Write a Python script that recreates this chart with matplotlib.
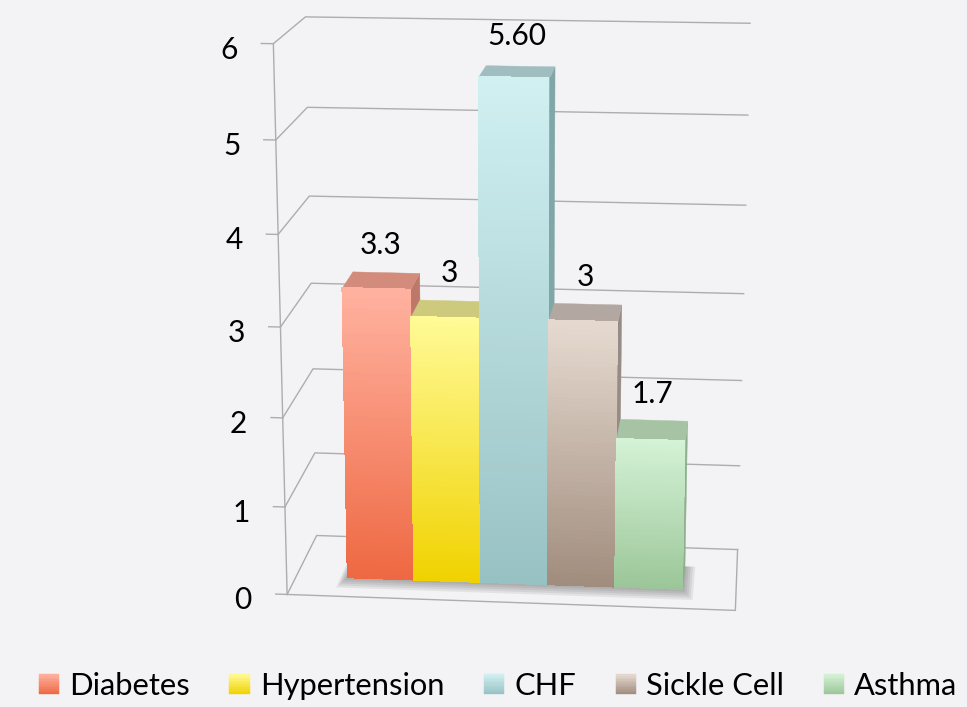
import numpy as np
import matplotlib
matplotlib.use("Agg")
import matplotlib.pyplot as plt
import matplotlib.transforms as mtransforms
from matplotlib.colors import to_rgb
from matplotlib.patches import Rectangle
from matplotlib.legend_handler import HandlerBase
from mpl_toolkits.mplot3d import proj3d
from mpl_toolkits.mplot3d.art3d import Poly3DCollection

# data
categories = ["Diabetes", "Hypertension", "CHF", "Sickle Cell", "Asthma"]
values = [3.3, 3.0, 5.6, 3.0, 1.7]
value_labels = ["3.3", "3", "5.60", "3", "1.7"]
z_ticks = [0, 1, 2, 3, 4, 5, 6]

# colours per series: front gradient (top, bottom), top face, right face
front_top = ["#FFB2A0", "#FFFA96", "#D0F0F2", "#E6DAD0", "#D4F2D6"]
front_bottom = ["#EE6842", "#F0D200", "#98C1C3", "#A08C7D", "#9BC698"]
top_face = ["#D38C7C", "#CDCA7D", "#A0BEC0", "#B2A8A1", "#A6C4A4"]
side_face = ["#BE7869", "#B9B464", "#80A6A8", "#968C85", "#8CAF8C"]

BG = "#F3F3F5"
GRID = "#ADADAD"

plt.rcParams["font.family"] = ["Lato", "DejaVu Sans"]


def blend(c_bot, c_top, t):
    a = np.array(to_rgb(c_bot))
    b = np.array(to_rgb(c_top))
    return tuple(a + (b - a) * t)


fig = plt.figure(figsize=(9.67, 7.07), dpi=100, facecolor=BG)
ax = fig.add_axes([0.1562, 0.0430, 0.7384, 1.0099], projection="3d",
                  computed_zorder=False)
ax.patch.set_visible(False)
ax.set_axis_off()
ax.set_proj_type("persp", focal_length=0.66)
ax.view_init(elev=15, azim=-84.5)
ax.set_box_aspect((1.039, 0.40, 1.29))

W, D = 6.56, 1.0         # floor width / depth
bx0 = 0.77               # first bar left edge
by0, by1 = 0.3, 0.68     # bar depth range

# walls: left wall + back wall gridlines, tick marks
for z in z_ticks:
    ax.plot([0, 0, W], [0, D, D], [z, z, z], color=GRID, lw=1, zorder=1)
    ax.plot([-0.17, 0], [0, 0], [z, z], color=GRID, lw=1, zorder=1)
ax.plot([0, W, W], [0, 0, D], [0, 0, 0], color=GRID, lw=1, zorder=1)
ax.plot([0, 0], [0, 0], [0, z_ticks[-1]], color=GRID, lw=1, zorder=1)

# soft shadow under the bars, darkest next to the bar edges
n_bars = len(values)
for k in range(5):
    e = 0.025 * (k + 1)
    sx0 = bx0 - 0.8 * e
    sx1 = bx0 + n_bars + 1.3 * e
    sy0 = by0 - 1.3 * e
    quad = [[(sx0, sy0, 0), (sx1, sy0, 0), (sx1, by1, 0), (sx0, by1, 0)]]
    ax.add_collection3d(Poly3DCollection(quad, facecolors=(0.25, 0.25, 0.25, 0.09),
                                         edgecolors="none", zorder=2))

# bars, drawn left to right so the later ones cover the earlier side faces
n_strips = 60
for i, v in enumerate(values):
    x0 = bx0 + i
    x1 = x0 + 1
    zo = 3 + i
    side = [[(x1, by0, 0), (x1, by1, 0), (x1, by1, v), (x1, by0, v)]]
    ax.add_collection3d(Poly3DCollection(side, facecolors=side_face[i],
                                         edgecolors=side_face[i], linewidths=0.3,
                                         zorder=zo))
    top = [[(x0, by0, v), (x1, by0, v), (x1, by1, v), (x0, by1, v)]]
    ax.add_collection3d(Poly3DCollection(top, facecolors=top_face[i],
                                         edgecolors=top_face[i], linewidths=0.3,
                                         zorder=zo))
    base = [[(x0, by0, 0), (x1, by0, 0), (x1, by0, v), (x0, by0, v)]]
    mid = blend(front_bottom[i], front_top[i], 0.5)
    ax.add_collection3d(Poly3DCollection(base, facecolors=mid, edgecolors="none",
                                         zorder=zo))
    zs = np.linspace(0, v, n_strips + 1)
    strips = []
    cols = []
    for k in range(n_strips):
        strips.append([(x0, by0, zs[k]), (x1, by0, zs[k]),
                       (x1, by0, zs[k + 1]), (x0, by0, zs[k + 1])])
        cols.append(blend(front_bottom[i], front_top[i], (k + 0.5) / n_strips))
    ax.add_collection3d(Poly3DCollection(strips, facecolors=cols, edgecolors="none",
                                         antialiaseds=False, zorder=zo))

ax.set_xlim(0, W)
ax.set_ylim(0, D)
ax.set_zlim(0, z_ticks[-1])

# text placed at projected 3D anchor points
M = ax.get_proj()


def to2d(x, y, z):
    px, py, _ = proj3d.proj_transform(x, y, z, M)
    return px, py


tick_tr = ax.transData + mtransforms.ScaledTranslation(-0.44, -0.15,
                                                        fig.dpi_scale_trans)
for z in z_ticks:
    px, py = to2d(0, 0, z)
    ax.text2D(px, py, str(z), transform=tick_tr, ha="center", va="baseline",
              fontsize=21.5, color="black", zorder=20)

lab_tr = ax.transData + mtransforms.ScaledTranslation(0, 0.265,
                                                       fig.dpi_scale_trans)
for i, v in enumerate(values):
    px, py = to2d(bx0 + i + 0.5, (by0 + by1) / 2, v)
    ax.text2D(px, py, value_labels[i], transform=lab_tr, ha="center",
              va="baseline", fontsize=21.5, color="black", zorder=20)


class GradientHandler(HandlerBase):
    def __init__(self, c_top, c_bot):
        super().__init__()
        self.c_top = c_top
        self.c_bot = c_bot

    def create_artists(self, legend, orig_handle, xdescent, ydescent, width,
                       height, fontsize, trans):
        n = 12
        out = []
        for k in range(n):
            col = blend(self.c_bot, self.c_top, (k + 0.5) / n)
            out.append(Rectangle((-xdescent, -ydescent + height * k / n), width,
                                 height / n, facecolor=col, edgecolor=col,
                                 lw=0.3, transform=trans))
        return out


handles = [Rectangle((0, 0), 1, 1) for _ in categories]
hmap = {h: GradientHandler(front_top[i], front_bottom[i])
        for i, h in enumerate(handles)}
fig.legend(handles, categories, handler_map=hmap, loc="center",
           bbox_to_anchor=(498 / 967, 1 - 686 / 707), ncol=5, frameon=False,
           fontsize=22.2, handlelength=0.66, handleheight=0.6, handletextpad=0.33,
           columnspacing=1.28)

fig.savefig("out.png", dpi=100, facecolor=BG)
